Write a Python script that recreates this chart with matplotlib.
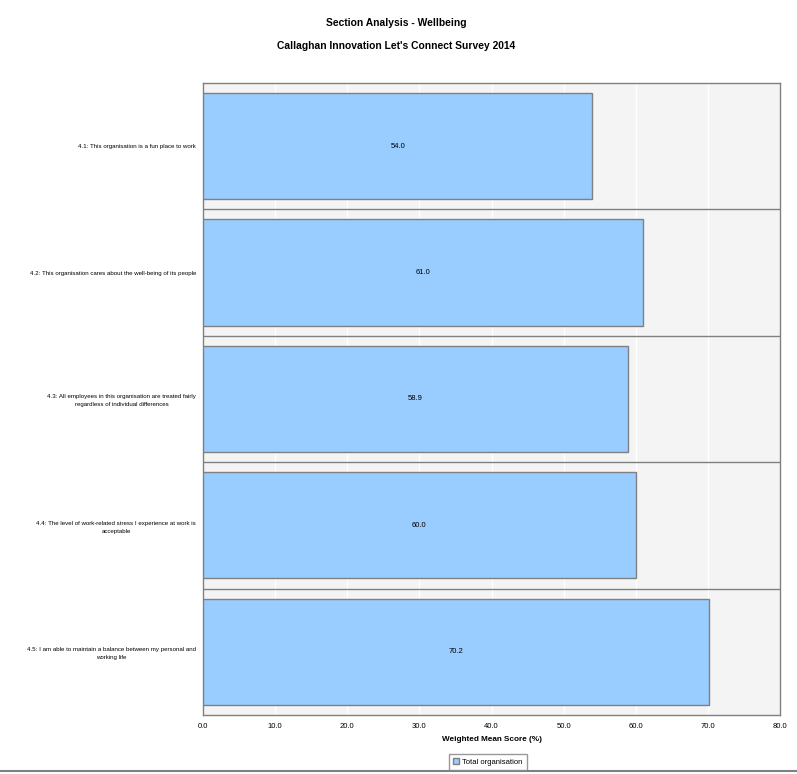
import numpy as np
import matplotlib.pyplot as plt

# chart data
categories = [
    "4.1: This organisation is a fun place to work",
    "4.2: This organisation cares about the well-being of its people",
    "4.3: All employees in this organisation are treated fairly\nregardless of individual differences",
    "4.4: The level of work-related stress I experience at work is\nacceptable",
    "4.5: I am able to maintain a balance between my personal and\nworking life",
]
scores = [54.0, 61.0, 58.9, 60.0, 70.2]
xticks = [0, 10, 20, 30, 40, 50, 60, 70, 80]

plt.rcParams['font.family'] = ['Liberation Sans Narrow', 'Liberation Sans', 'DejaVu Sans']

fig = plt.figure(figsize=(7.97, 7.74), dpi=100)
ax = fig.add_axes([0.2547, 0.0762, 0.9787 - 0.2547, 0.8928 - 0.0762])
ax.set_facecolor("#F4F4F4")

ypos = np.arange(len(categories))
ax.barh(ypos, scores, height=0.84, color="#99CCFF", edgecolor="#808080",
        linewidth=1.0, zorder=3, label="Total organisation")

for y, v in zip(ypos, scores):
    ax.text(v / 2, y, "%.1f" % v, ha="center", va="center", fontsize=5.5, zorder=4)

# band separators
for b in np.arange(0.5, len(categories) - 0.5, 1.0):
    ax.axhline(b, color="#808080", linewidth=1.0, zorder=2)

ax.set_xlim(0, 80)
ax.set_ylim(len(categories) - 0.5, -0.5)
ax.set_xticks(xticks)
ax.set_xticklabels(["%.1f" % t for t in xticks], fontsize=5.5)
ax.set_yticks(ypos)
ax.set_yticklabels(categories, fontsize=4.4, multialignment="center", linespacing=1.7)
ax.tick_params(axis="x", length=0, pad=6)
ax.tick_params(axis="y", length=0, pad=5)
ax.xaxis.grid(True, color="white", linewidth=1.0, zorder=1)
ax.set_axisbelow(True)
for s in ax.spines.values():
    s.set_color("#808080")
    s.set_linewidth(1.0)

ax.set_xlabel("Weighted Mean Score (%)", fontsize=5.9, fontweight="bold", labelpad=4)

fig.text(0.4975, 1 - 23 / 774, "Section Analysis - Wellbeing", ha="center", va="center",
         fontsize=7.4, fontweight="bold")
fig.text(0.4975, 1 - 46 / 774, "Callaghan Innovation Let's Connect Survey 2014", ha="center",
         va="center", fontsize=7.4, fontweight="bold")

leg = fig.legend(loc="center", bbox_to_anchor=(488 / 797, 1 - 762 / 774), fontsize=5.5,
                 frameon=True, fancybox=False, handlelength=0.8, handleheight=0.8,
                 handletextpad=0.4, borderpad=0.5)
leg.get_frame().set_edgecolor("#808080")
leg.get_frame().set_linewidth(1.0)

fig.add_artist(plt.Line2D([0, 1], [1 - 771 / 774, 1 - 771 / 774], color="#808080",
                          linewidth=1.5, transform=fig.transFigure))

fig.savefig("out.png", dpi=100)
